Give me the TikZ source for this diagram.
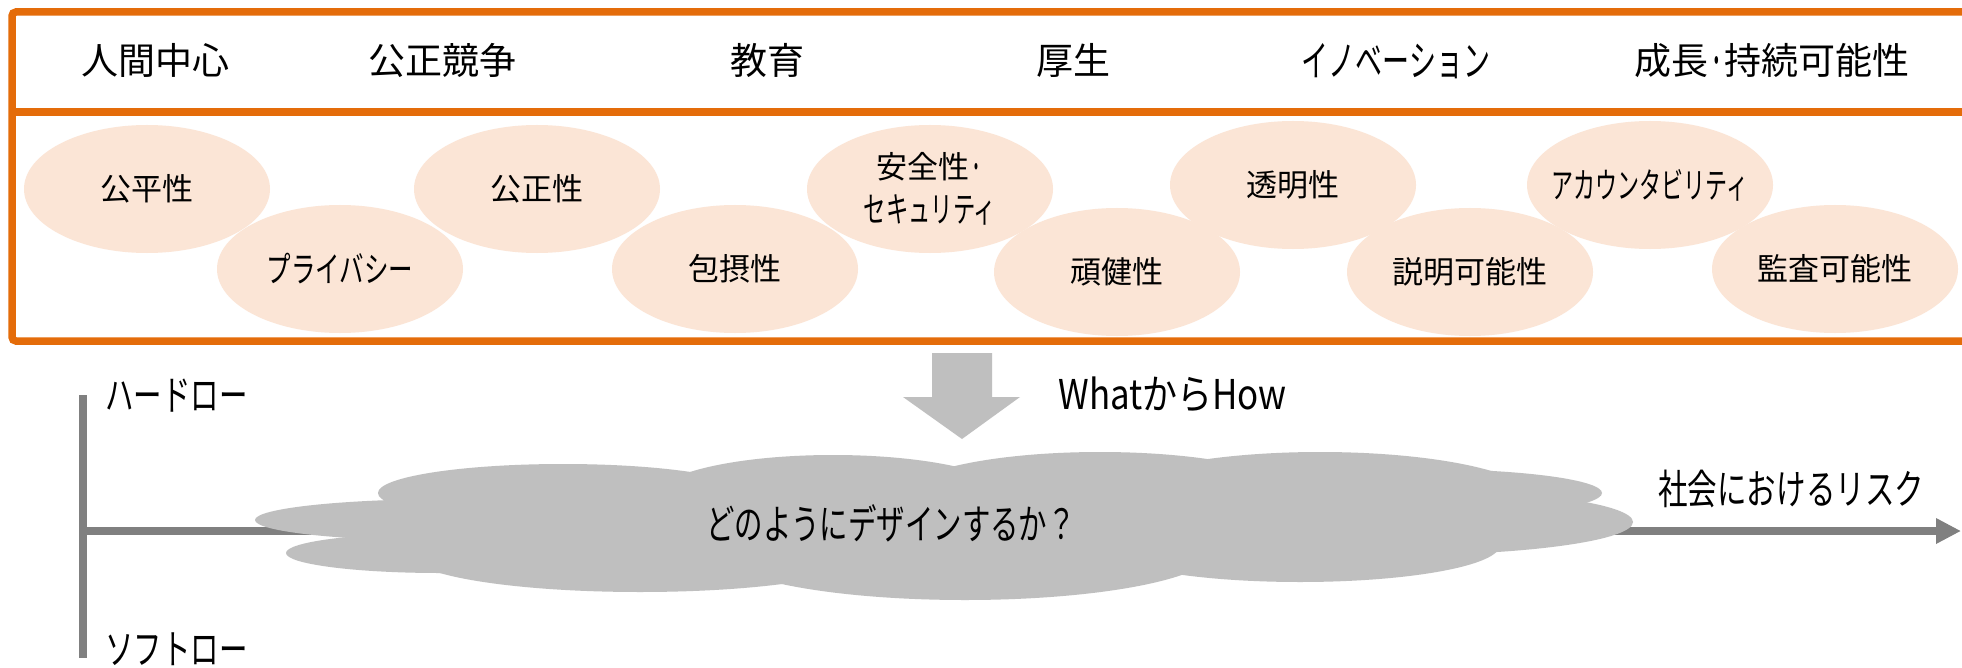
\documentclass[tikz,border=0pt]{standalone}
\usepackage{fontspec}
\usepackage{graphicx}
\setmainfont{Noto Sans CJK JP}
\usetikzlibrary{shapes.geometric,arrows.meta}
\definecolor{orng}{HTML}{E46C0A}
\definecolor{peach}{HTML}{FBE5D6}
\definecolor{cloudgray}{HTML}{BFBFBF}
\definecolor{axisgray}{HTML}{808080}
\newcommand{\sx}[2]{\scalebox{#1}[1]{#2}}
\newcommand{\kx}[2]{\scalebox{#1}[1.14]{#2}}
\newcommand{\zb}[1]{\makebox[0pt]{#1}}
\newcommand{\ndot}{\sx{0.45}{・}}
\begin{document}
\begin{tikzpicture}[x=0.5pt,y=-0.5pt,
  hdr/.style={inner sep=0pt, font=\fontsize{18.5}{22}\selectfont},
  pill/.style={ellipse, fill=peach, minimum width=123pt, minimum height=64pt, inner sep=0pt, font=\fontsize{15.5}{22}\selectfont, align=center},
  lbl/.style={inner sep=0pt, font=\fontsize{18}{22}\selectfont},
  axisline/.style={draw=axisgray, line width=4pt},
  lobe/.style={fill=cloudgray},
  framebox/.style={draw=orng, line width=3.75pt}]
\clip (0,0) rectangle (1962,668);
\fill[white] (0,0) rectangle (1962,668);

% frame
\draw[framebox, rounded corners=2pt] (12,12) rectangle (1975,341);
\draw[framebox] (12,112) -- (1975,112);

% header
\node[hdr] (h1) at (155,60) {人間中心};
\node[hdr] (h2) at (442,60) {公正競争};
\node[hdr] (h3) at (767,60) {教育};
\node[hdr] (h4) at (1073,60) {厚生};
\node[hdr] (h5) at (1396,61) {\kx{0.73}{イノベーション}};
\node[hdr] (h6) at (1772,61) {成長\ndot 持続可能性};

% principles
\node[pill] (p1) at (147,189) {\zb{公平性}};
\node[pill] (p2) at (340,269) {\zb{\kx{0.79}{プライバシー}}};
\node[pill] (p3) at (537,189) {\zb{公正性}};
\node[pill] (p4) at (735,269) {\zb{包摂性}};
\node[pill] (p5) at (930,189) {\zb{安全性\ndot}\\\zb{\kx{0.72}{セキュリティ}}};
\node[pill] (p6) at (1117,272) {\zb{頑健性}};
\node[pill] (p7) at (1293,185) {\zb{透明性}};
\node[pill] (p8) at (1470,272) {\zb{説明可能性}};
\node[pill] (p9) at (1650,185) {\zb{\kx{0.71}{アカウンタビリティ}}};
\node[pill] (p10) at (1835,269) {\zb{監査可能性}};

% axes
\coordinate (hard) at (83,395);
\coordinate (soft) at (83,658);
\coordinate (axis) at (83,531);
\coordinate (risk) at (1961,531);
\draw[axisline] (hard) -- (soft);
\draw[axisline, -{Triangle[length=12.5pt,width=12pt]}] (axis) -- (risk);

% down arrow
\fill[cloudgray] (932,353) -- (992,353) -- (992,397) -- (1020,397) -- (962,439) -- (903,397) -- (932,397) -- cycle;

% cloud
\fill[lobe] (420,480) rectangle (1450,550);
\fill[lobe] (450,520) ellipse [x radius=195, y radius=21];
\fill[lobe] (440,553) ellipse [x radius=154, y radius=20];
\fill[lobe] (563,493) ellipse [x radius=185, y radius=29];
\fill[lobe] (833,497) ellipse [x radius=178, y radius=42];
\fill[lobe] (1100,497) ellipse [x radius=200, y radius=45];
\fill[lobe] (1320,500) ellipse [x radius=215, y radius=48];
\fill[lobe] (1420,493) ellipse [x radius=182, y radius=24];
\fill[lobe] (1400,522) ellipse [x radius=233, y radius=33];
\fill[lobe] (640,555) ellipse [x radius=229, y radius=37];
\fill[lobe] (965,550) ellipse [x radius=250, y radius=50];
\fill[lobe] (1300,545) ellipse [x radius=200, y radius=37];

% labels
\node[lbl, anchor=west] (hl) at (105,396) {\kx{0.79}{ハードロー}};
\node[lbl, anchor=west] (sl) at (105,649) {\kx{0.79}{ソフトロー}};
\node[lbl, anchor=west] (wh) at (1058,395) {\kx{0.97}{WhatからHow}};
\node[lbl, anchor=west] (rk) at (1658,489) {\kx{0.82}{社会におけるリスク}};
\node[lbl] (q) at (891,523) {\kx{0.79}{どのようにデザインするか？}};
\end{tikzpicture}
\end{document}
